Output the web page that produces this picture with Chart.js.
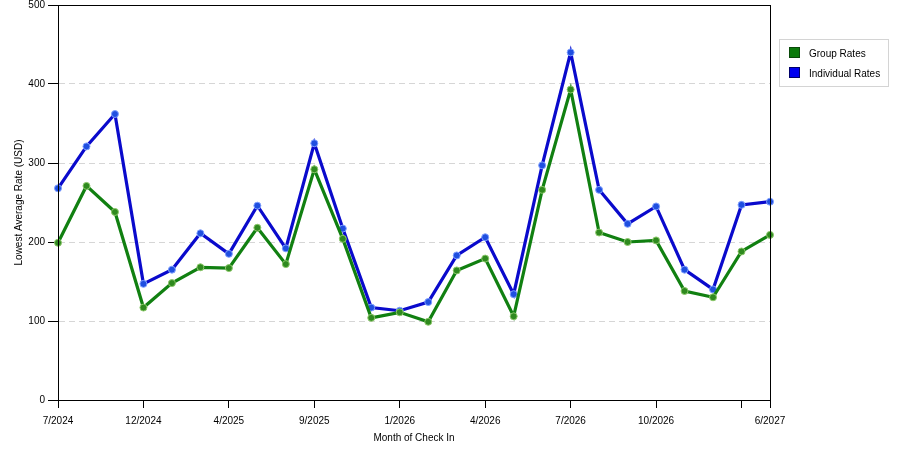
<!DOCTYPE html>
<html>
<head>
<meta charset="utf-8">
<script src="https://cdn.jsdelivr.net/npm/chart.js@4/dist/chart.umd.min.js"></script>
<style>
    html, body { margin: 0; padding: 0; background: #fff; }
    #wrap { position: relative; width: 900px; height: 450px; }
    #legend {
        position: absolute; left: 779px; top: 39px; width: 108px; height: 46px;
        border: 1px solid #d4d4d4; font: 10px "Liberation Sans", Arial, sans-serif; color: #000;
    }
    #legend .item { position: absolute; left: 9px; height: 13px; line-height: 13px; white-space: nowrap; }
    #legend .box { display: inline-block; width: 11px; height: 11px; vertical-align: top; margin-right: 9px; }
</style>
</head>
<body>
<div id="wrap">
    <canvas id="chart" width="900" height="450"></canvas>
    <div id="legend"></div>
</div>
<script>
"use strict";

// months of check in, one per point
var months = ["7/2024", "8/2024", "10/2024", "12/2024", "1/2025", "3/2025", "4/2025", "6/2025", "7/2025",
    "9/2025", "10/2025", "11/2025", "1/2026", "2/2026", "3/2026", "4/2026", "5/2026", "6/2026", "7/2026",
    "8/2026", "9/2026", "10/2026", "11/2026", "12/2026", "2/2027", "6/2027"];

// tick labels printed under the axis, and ticks that only get a mark
var tickLabels = ["7/2024", "12/2024", "4/2025", "9/2025", "1/2026", "4/2026", "7/2026", "10/2026", "6/2027"];
var tickMarksOnly = ["2/2027"];

var groupRates = [199, 271, 238, 117, 148, 168, 167, 218, 172, 292, 204, 104, 111, 99, 164, 179, 106, 266, 393,
    212, 200, 202, 138, 130, 188, 209];
var individualRates = [268, 321, 362, 147, 165, 211, 185, 246, 192, 325, 217, 117, 113, 124, 183, 206, 134, 297,
    440, 266, 223, 245, 165, 140, 247, 251];

var yTicks = [0, 100, 200, 300, 400, 500];

var font = { family: "'Liberation Sans', Arial, sans-serif", size: 10 };

var series = [
    { label: "Group Rates", data: groupRates, line: "#118011", point: "#2f8a1f", halo: "#8cc86a", swatch: "#0b7a0b", swatchBorder: "#0a4a0a" },
    { label: "Individual Rates", data: individualRates, line: "#0a0acc", point: "#1f4fe0", halo: "#7f9fff", swatch: "#0000f0", swatchBorder: "#00006a" }
];

// the picture draws a full box round the plot area
var frame = {
    id: "frame",
    afterDraw: function (chart) {
        var a = chart.chartArea;
        var ctx = chart.ctx;
        ctx.save();
        ctx.strokeStyle = "#000";
        ctx.lineWidth = 1;
        ctx.strokeRect(Math.round(a.left) + 0.5, Math.round(a.top) + 0.5, Math.round(a.right - a.left), Math.round(a.bottom - a.top));
        ctx.restore();
    }
};

new Chart(document.getElementById("chart"), {
    type: "line",
    data: {
        labels: months,
        datasets: series.map(function (s) {
            return {
                label: s.label,
                data: s.data,
                borderColor: s.line,
                borderWidth: 3.2,
                pointRadius: 3.5,
                pointBackgroundColor: s.point,
                pointBorderColor: s.halo,
                pointBorderWidth: 1,
                tension: 0
            };
        })
    },
    plugins: [frame],
    options: {
        responsive: false,
        animation: false,
        layout: { padding: { left: 0, right: 130, top: 5, bottom: 0 } },
        plugins: {
            legend: { display: false },
            tooltip: { enabled: false }
        },
        scales: {
            x: {
                offset: false,
                afterFit: function (scale) {
                    scale.height = 50;
                    scale.paddingLeft = 0;
                    scale.paddingRight = 0;
                },
                grid: { drawOnChartArea: false, drawTicks: true, tickLength: 8, tickColor: "#000" },
                border: { color: "#000" },
                ticks: {
                    autoSkip: false,
                    maxRotation: 0,
                    padding: 7,
                    color: "#000",
                    font: font,
                    callback: function (value, index) {
                        var m = months[index];
                        if (tickLabels.indexOf(m) >= 0) { return m; }
                        if (tickMarksOnly.indexOf(m) >= 0) { return ""; }
                        return null;
                    }
                },
                title: { display: true, text: "Month of Check In", color: "#000", font: font, padding: { top: 0, bottom: 6 } }
            },
            y: {
                min: 0,
                max: 500,
                afterFit: function (scale) {
                    scale.width = 58;
                    scale.paddingTop = 0;
                    scale.paddingBottom = 0;
                },
                afterBuildTicks: function (scale) {
                    scale.ticks = yTicks.map(function (v) { return { value: v }; });
                },
                grid: { color: "#d6d6d6", tickLength: 10, tickColor: "#000", tickBorderDash: [] },
                border: { color: "#000", dash: [6, 4] },
                ticks: { padding: 3, color: "#000", font: font },
                title: { display: true, text: "Lowest Average Rate (USD)", color: "#000", font: font, padding: { top: 13, bottom: 0 } }
            }
        }
    }
});

// legend drawn beside the canvas, from the same series
var legend = document.getElementById("legend");
series.forEach(function (s, i) {
    var item = document.createElement("div");
    item.className = "item";
    item.style.top = (7 + i * 20) + "px";
    var box = document.createElement("span");
    box.className = "box";
    box.style.background = s.swatch;
    box.style.border = "1px solid " + s.swatchBorder;
    box.style.boxSizing = "border-box";
    item.appendChild(box);
    item.appendChild(document.createTextNode(s.label));
    legend.appendChild(item);
});
</script>
</body>
</html>
